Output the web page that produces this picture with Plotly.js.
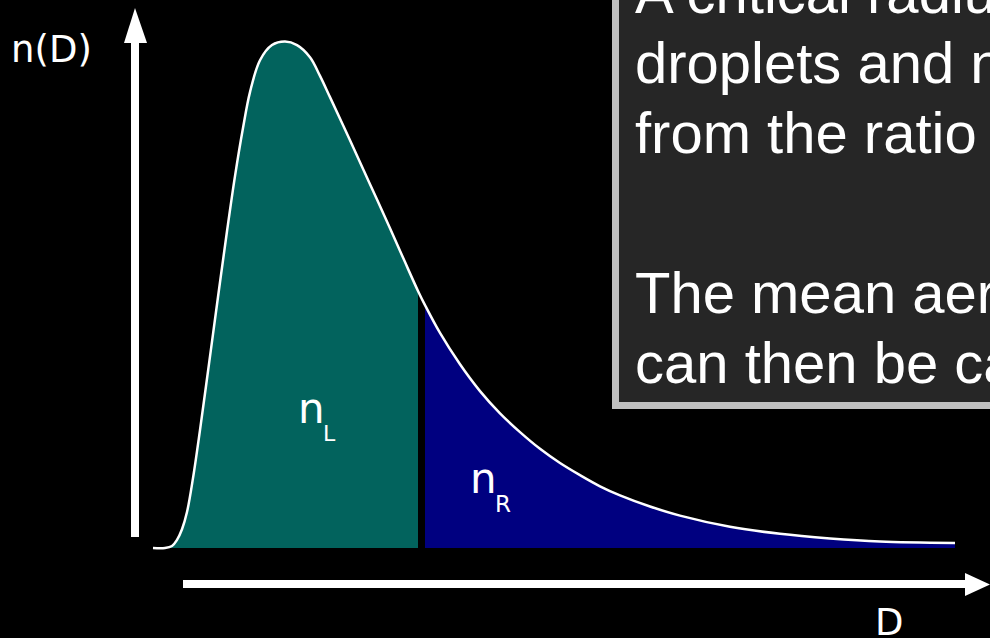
<!DOCTYPE html>
<html>
<head>
<meta charset="utf-8">
<script src="https://cdn.plot.ly/plotly-3.0.1.min.js"></script>
<style>
  html, body { margin: 0; padding: 0; background: #000; }
  #chart { width: 990px; height: 638px; }
</style>
</head>
<body>
<div id="chart"></div>
<script>
// Droplet size distribution n(D), split at the critical diameter
// Left part (below the critical size): D and n(D)
const dLeft = [0.00, 0.12, 0.19, 0.24, 0.29, 0.34, 0.40, 0.47, 0.56, 0.65, 0.74, 0.82, 0.90, 0.97, 1.07, 1.19, 1.32, 1.44, 1.57, 1.67, 1.77, 1.97, 2.17, 2.37, 2.52, 2.65];
const nLeft = [0.000, 0.000, 0.004, 0.016, 0.037, 0.071, 0.138, 0.233, 0.364, 0.496, 0.626, 0.735, 0.830, 0.901, 0.964, 0.994, 1.001, 0.994, 0.970, 0.933, 0.891, 0.806, 0.719, 0.632, 0.565, 0.508];
// Right part (above the critical size)
const dRight = [2.72, 2.87, 3.07, 3.27, 3.47, 3.67, 3.87, 4.07, 4.27, 4.47, 4.67, 4.97, 5.27, 5.77, 6.27, 6.77, 7.27, 8.02];
const nRight = [0.480, 0.425, 0.363, 0.310, 0.266, 0.229, 0.196, 0.168, 0.144, 0.122, 0.104, 0.082, 0.064, 0.042, 0.028, 0.019, 0.013, 0.010];

const W = 990, H = 638;
// pixel helpers for the decorative frame (axis arrows, text panel)
const px = v => v / W;
const py = v => 1 - v / H;

const curveLine = { shape: 'spline', smoothing: 1 };

const fillLeft = {
  x: dLeft, y: nLeft, type: 'scatter', mode: 'lines',
  line: Object.assign({ width: 0, color: '#02635d' }, curveLine),
  fill: 'tozeroy', fillcolor: '#02635d', hoverinfo: 'skip'
};
const fillRight = {
  x: dRight, y: nRight, type: 'scatter', mode: 'lines',
  line: Object.assign({ width: 0, color: '#000080' }, curveLine),
  fill: 'tozeroy', fillcolor: '#000080', hoverinfo: 'skip'
};
const outline = {
  x: dLeft.concat(dRight), y: nLeft.concat(nRight), type: 'scatter', mode: 'lines',
  line: Object.assign({ width: 2.5, color: '#ffffff' }, curveLine),
  hoverinfo: 'skip'
};

const white = '#ffffff';
const shapes = [
  // vertical axis arrow
  { type: 'rect', xref: 'paper', yref: 'paper', x0: px(131), x1: px(139), y0: py(537), y1: py(42),
    fillcolor: white, line: { width: 0 } },
  { type: 'path', xref: 'paper', yref: 'paper',
    path: `M ${px(135)} ${py(8)} L ${px(124)} ${py(43)} L ${px(147)} ${py(43)} Z`,
    fillcolor: white, line: { width: 0 } },
  // horizontal axis arrow
  { type: 'rect', xref: 'paper', yref: 'paper', x0: px(183), x1: px(966), y0: py(588), y1: py(580),
    fillcolor: white, line: { width: 0 } },
  { type: 'path', xref: 'paper', yref: 'paper',
    path: `M ${px(990)} ${py(584.5)} L ${px(965)} ${py(573)} L ${px(965)} ${py(596)} Z`,
    fillcolor: white, line: { width: 0 } },
  // explanation panel
  { type: 'rect', xref: 'paper', yref: 'paper', x0: px(615.5), x1: px(1010), y0: py(405.5), y1: py(-20),
    fillcolor: '#262626', line: { color: '#c0c0c0', width: 7 } }
];

const sans = 'DejaVu Sans, sans-serif';
const arial = 'Liberation Sans, Arial, sans-serif';
function label(text, x, yMid, size, family) {
  return { text: text, xref: 'paper', yref: 'paper', x: px(x), y: py(yMid),
    xanchor: 'left', yanchor: 'middle', showarrow: false,
    font: { family: family, size: size, color: white } };
}

const panelLines = [
  'A critical radius separates cloud',
  'droplets and non-activated aerosol',
  'from the ratio of the two areas.',
  'The mean aerosol activation',
  'can then be calculated.'
];
const panelMids = [-7.1, 62.9, 132.9, 292.9, 362.9];

const annotations = [
  label('n(D)', 9, 50, 37, sans),
  label('D', 873, 622, 37, sans),
  label('n', 296, 408.5, 42, sans),
  label('L', 321, 433.4, 22, sans),
  label('n', 468, 478.5, 42, sans),
  label('R', 493, 504, 23, sans)
].concat(panelLines.map((t, i) => label(t, 633, panelMids[i], 58, arial)));

const layout = {
  width: W, height: H,
  margin: { l: 0, r: 0, t: 0, b: 0 },
  paper_bgcolor: '#000000', plot_bgcolor: '#000000',
  showlegend: false,
  xaxis: { range: [-1.53, 8.37], visible: false, fixedrange: true },
  yaxis: { range: [-90 / 506, 548 / 506], visible: false, fixedrange: true },
  shapes: shapes,
  annotations: annotations
};

Plotly.newPlot('chart', [fillLeft, fillRight, outline], layout, { displayModeBar: false, staticPlot: true });
</script>
</body>
</html>
